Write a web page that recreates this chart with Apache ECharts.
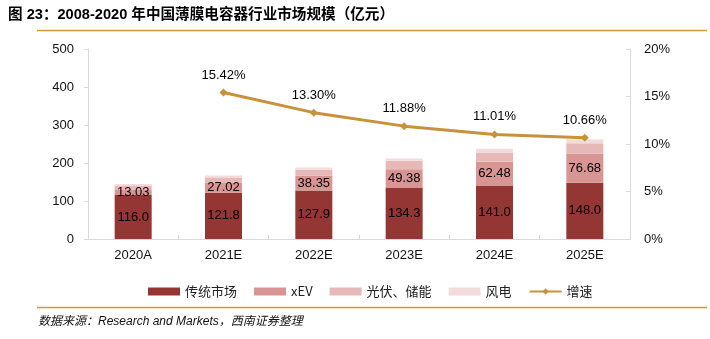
<!DOCTYPE html>
<html>
<head>
<meta charset="utf-8">
<script src="https://cdn.jsdelivr.net/npm/echarts@6/dist/echarts.min.js"></script>
<style>
  html, body { margin: 0; padding: 0; background: #fff; }
  #chart { width: 710px; height: 339px; }
</style>
</head>
<body>
<div id="chart"></div>
<script>
// 中国薄膜电容器市场规模（亿元），按应用拆分
const categories = ['2020A', '2021E', '2022E', '2023E', '2024E', '2025E'];
const traditional = [116.0, 121.8, 127.9, 134.3, 141.0, 148.0];
const xev = [13.03, 27.02, 38.35, 49.38, 62.48, 76.68];
const pvStorage = [12, 13, 16, 22, 24, 27];
const wind = [4, 5, 6, 6, 10, 10.5];
const growth = [null, 15.42, 13.30, 11.88, 11.01, 10.66];

const leftTicks = [0, 100, 200, 300, 400, 500];
const rightTicks = [0, 5, 10, 15, 20];

const FONT = '"Liberation Sans", Arial, "Noto Sans CJK SC", sans-serif';
const CJK = '"Noto Sans CJK SC", "Liberation Sans", sans-serif';

const chart = echarts.init(document.getElementById('chart'));

const barLabel = {
  show: true,
  position: 'inside',
  color: '#000',
  fontSize: 13,
  fontFamily: FONT
};

chart.setOption({
  animation: false,
  backgroundColor: '#fff',
  grid: { left: 88, right: 80, top: 49, bottom: 100 },
  legend: {
    left: 143,
    top: 280,
    itemWidth: 32,
    itemHeight: 8,
    itemGap: 17,
    textStyle: { fontSize: 13, fontFamily: CJK, color: '#222' },
    data: [
      { name: '传统市场', icon: 'rect' },
      { name: 'xEV', icon: 'rect' },
      { name: '光伏、储能', icon: 'rect' },
      { name: '风电', icon: 'rect' },
      { name: '增速' }
    ]
  },
  xAxis: {
    type: 'category',
    data: categories,
    axisLine: { lineStyle: { color: '#d9d9d9', width: 1 } },
    axisTick: { show: true, inside: true, length: 4, lineStyle: { color: '#d9d9d9' } },
    axisLabel: { color: '#111', fontSize: 13, fontFamily: FONT, margin: 10 }
  },
  yAxis: [
    {
      type: 'value',
      min: leftTicks[0],
      max: leftTicks[leftTicks.length - 1],
      interval: 100,
      axisLine: { show: true, lineStyle: { color: '#d9d9d9' } },
      axisTick: { show: true, length: 4, lineStyle: { color: '#d9d9d9' } },
      splitLine: { show: false },
      axisLabel: { color: '#111', fontSize: 13, fontFamily: FONT, margin: 14 }
    },
    {
      type: 'value',
      min: rightTicks[0],
      max: rightTicks[rightTicks.length - 1],
      interval: 5,
      position: 'right',
      axisLine: { show: true, lineStyle: { color: '#d9d9d9' } },
      axisTick: { show: true, inside: true, length: 4, lineStyle: { color: '#d9d9d9' } },
      splitLine: { show: false },
      axisLabel: { color: '#111', fontSize: 13, fontFamily: FONT, margin: 14, formatter: '{value}%' }
    }
  ],
  series: [
    {
      name: '传统市场', type: 'bar', stack: 'total', barWidth: 37,
      data: traditional,
      itemStyle: { color: '#943634' },
      label: Object.assign({}, barLabel, { formatter: p => p.value.toFixed(1) })
    },
    {
      name: 'xEV', type: 'bar', stack: 'total', barWidth: 37,
      data: xev,
      itemStyle: { color: '#d99594' },
      label: Object.assign({}, barLabel, { formatter: p => p.value.toFixed(2) })
    },
    {
      name: '光伏、储能', type: 'bar', stack: 'total', barWidth: 37,
      data: pvStorage,
      itemStyle: { color: '#e6b9b8' }
    },
    {
      name: '风电', type: 'bar', stack: 'total', barWidth: 37,
      data: wind,
      itemStyle: { color: '#f2dcdb' }
    },
    {
      name: '增速', type: 'line', yAxisIndex: 1,
      data: growth,
      symbol: 'diamond',
      symbolSize: 8,
      lineStyle: { color: '#c8913b', width: 3 },
      itemStyle: { color: '#c8913b' },
      label: {
        show: true, position: 'top', distance: 7,
        color: '#000', fontSize: 13, fontFamily: FONT,
        formatter: p => p.value.toFixed(2) + '%'
      }
    }
  ],
  graphic: [
    {
      type: 'text', left: 8, top: 8,
      style: {
        text: '图 23：2008-2020 年中国薄膜电容器行业市场规模（亿元）',
        font: 'bold 14.6px "Liberation Sans", "Noto Sans CJK SC", sans-serif',
        fill: '#000'
      }
    },
    {
      type: 'line',
      shape: { x1: 37, y1: 30.5, x2: 707, y2: 30.5 },
      style: { stroke: '#d9953a', lineWidth: 1.5 }
    },
    {
      type: 'line',
      shape: { x1: 37, y1: 307.5, x2: 707, y2: 307.5 },
      style: { stroke: '#d9953a', lineWidth: 1.5 }
    },
    {
      type: 'text', left: 38, top: 316,
      style: {
        text: '数据来源：Research and Markets，西南证券整理',
        font: 'italic 12px "Liberation Sans", "Noto Sans CJK SC", sans-serif',
        fill: '#111'
      }
    }
  ]
});
</script>
</body>
</html>
